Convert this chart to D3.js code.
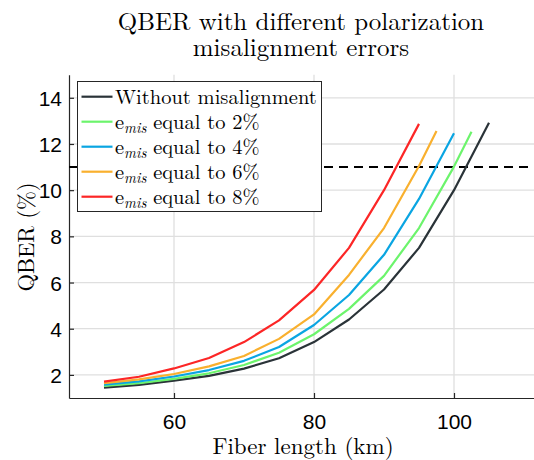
<!DOCTYPE html>
<html><head><meta charset="utf-8">
<script src="https://cdn.jsdelivr.net/npm/d3@7"></script>
<style>
html,body{margin:0;padding:0;background:#fff;}
svg{display:block;}
</style></head>
<body>
<script>
// ---- data ----
const xBlack  = [50,55,60,65,70,75,80,85,90,95,100,105];
const yBlack  = [1.45,1.57,1.75,1.96,2.27,2.72,3.42,4.40,5.70,7.50,10.00,12.92];
const xGreen  = [50,55,60,65,70,75,80,85,90,95,100,102.5];
const yGreen  = [1.52,1.64,1.83,2.07,2.43,2.96,3.76,4.86,6.29,8.36,11.02,12.53];
const xBlue   = [50,55,60,65,70,75,80,85,90,95,100];
const yBlue   = [1.58,1.72,1.93,2.21,2.61,3.21,4.16,5.46,7.20,9.62,12.46];
const xOrange = [50,55,60,65,70,75,80,85,90,95,97.5];
const yOrange = [1.64,1.81,2.04,2.37,2.82,3.56,4.62,6.33,8.36,11.05,12.56];
const xRed    = [50,55,60,65,70,75,80,85,90,95];
const yRed    = [1.71,1.92,2.28,2.73,3.42,4.36,5.68,7.50,10.00,12.87];
const seriesNames = ["Without misalignment","2%","4%","6%","8%"];
const seriesColors = ["#2a3338","#6cf46c","#0aa5e2","#f9b02e","#fc2626"];
const thresholdQBER = 11;
const thresholdRange = [45,112];
const xTicks = [60,80,100];
const yTicks = [2,4,6,8,10,12,14];
const xDomain = [45,112];
const yDomain = [1,15];
const titleLines = ["QBER with different polarization","misalignment errors"];
const xLabel = "Fiber length (km)";
const yLabel = "QBER (%)";

const W = 534, H = 460;
const svg = d3.select("body").append("svg").attr("width",W).attr("height",H);

const x = d3.scaleLinear().domain(xDomain).range([69,538]);
const y = d3.scaleLinear().domain(yDomain).range([398,74.7]);

const SERIF = '"Latin Modern Roman","Liberation Serif",serif';
const SANS = '"Liberation Sans","DejaVu Sans",sans-serif';
const axisColor = "#262626";

// grid
const g = svg.append("g");
g.selectAll("line.vg").data(xTicks).join("line")
  .attr("x1",d=>x(d)).attr("x2",d=>x(d)).attr("y1",y(yDomain[1])).attr("y2",y(yDomain[0]))
  .attr("stroke","#dfdfdf").attr("stroke-width",1.3);
g.selectAll("line.hg").data(yTicks).join("line")
  .attr("y1",d=>y(d)).attr("y2",d=>y(d)).attr("x1",x(xDomain[0])).attr("x2",x(xDomain[1]))
  .attr("stroke","#dfdfdf").attr("stroke-width",1.3);

// axes
const xAxis = d3.axisBottom(x).tickValues(xTicks).tickSizeInner(-5).tickSizeOuter(0);
const yAxis = d3.axisLeft(y).tickValues(yTicks).tickSizeInner(-5).tickSizeOuter(0);
const gx = svg.append("g").attr("transform",`translate(0,${y(yDomain[0])})`).call(xAxis);
const gy = svg.append("g").attr("transform",`translate(${x(xDomain[0])},0)`).call(yAxis);
[gx,gy].forEach(a=>{
  a.select(".domain").attr("stroke",axisColor).attr("stroke-width",1.2);
  a.selectAll(".tick line").attr("stroke",axisColor).attr("stroke-width",1.2);
  a.selectAll(".tick text").attr("fill","#000").style("font-family",SANS).style("font-size","21px");
});
gx.selectAll(".tick text").attr("y",31).attr("dy",null);
gy.selectAll(".tick text").attr("x",-7).attr("dy","0.36em");

// threshold
svg.append("line")
  .attr("x1",x(thresholdRange[0])).attr("x2",x(thresholdRange[1]))
  .attr("y1",y(thresholdQBER)).attr("y2",y(thresholdQBER))
  .attr("stroke","#000").attr("stroke-width",2).attr("stroke-dasharray","9,6");

// curves
const allX = [xBlack,xGreen,xBlue,xOrange,xRed];
const allY = [yBlack,yGreen,yBlue,yOrange,yRed];
const line = d3.line().x(d=>x(d[0])).y(d=>y(d[1]));
allX.forEach((xs,i)=>{
  const pts = xs.map((v,j)=>[v,allY[i][j]]);
  svg.append("path").datum(pts).attr("d",line)
    .attr("fill","none").attr("stroke",seriesColors[i]).attr("stroke-width",2.2)
    .attr("stroke-linejoin","round");
});

// legend
const lg = svg.append("g");
lg.append("rect").attr("x",77.5).attr("y",81.5).attr("width",244).attr("height",130)
  .attr("fill","#fff").attr("stroke","#262626").attr("stroke-width",1);
seriesNames.forEach((nm,i)=>{
  const cy = 96.7 + i*25;
  lg.append("line").attr("x1",81.5).attr("x2",112.5).attr("y1",cy).attr("y2",cy)
    .attr("stroke",seriesColors[i]).attr("stroke-width",2.2);
  const t = lg.append("text").attr("x",115).attr("y",cy+7)
    .style("font-family",SERIF).style("font-size","20.5px").attr("fill","#000");
  if(i===0){ t.text(nm); }
  else {
    t.append("tspan").text("e");
    t.append("tspan").attr("dy",4).style("font-size","14.5px").style("font-style","italic").text("mis");
    t.append("tspan").attr("dy",-4).text(" equal to " + nm);
  }
});

// title
const tt = svg.append("text").attr("text-anchor","middle")
  .style("font-family",SERIF).style("font-size","25px").attr("fill","#000");
titleLines.forEach((l,i)=>tt.append("tspan").attr("x",301).attr("y",30+i*26).text(l));

// axis labels
svg.append("text").attr("x",303).attr("y",454).attr("text-anchor","middle")
  .style("font-family",SERIF).style("font-size","23px").text(xLabel);
svg.append("text").attr("transform",`translate(34,237) rotate(-90)`).attr("text-anchor","middle")
  .style("font-family",SERIF).style("font-size","22.5px").text(yLabel);
</script>
</body></html>
